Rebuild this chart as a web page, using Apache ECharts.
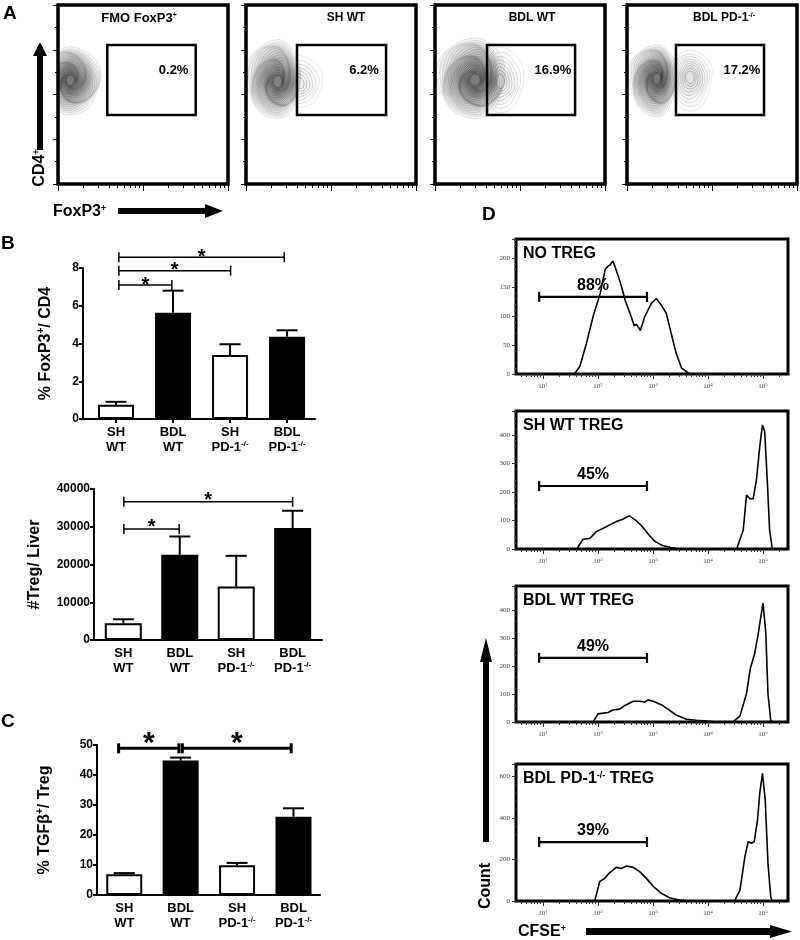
<!DOCTYPE html>
<html><head><meta charset="utf-8">
<script src="https://cdn.jsdelivr.net/npm/echarts@6/dist/echarts.min.js"></script>
<style>html,body{margin:0;padding:0;background:#fff}#c{width:800px;height:940px}</style>
</head><body><div id="c"></div>
<script>
// ---------------- DATA ----------------
const catLabels = ['SH\nWT', 'BDL\nWT', 'SH\nPD-1{s|-/-}', 'BDL\nPD-1{s|-/-}'];
const barFill = ['#fff', '#000', '#fff', '#000'];

const foxp3Mean = [0.75, 5.63, 3.39, 4.36];
const foxp3Err  = [0.16, 1.17, 0.57, 0.34];
const foxp3Sig  = [[0.05, 0.98, 7.1], [0.05, 2.01, 7.86], [0.05, 2.95, 8.57]];

const tregMean = [4430, 22560, 14150, 29650];
const tregErr  = [1060, 4860, 8150, 4590];
const tregSig  = [[0.01, 0.99, 29380], [0.01, 3.0, 36600]];

const tgfMean = [6.9, 44.8, 9.9, 26.1];
const tgfErr  = [0.4, 1.0, 0.8, 2.8];
const tgfSig  = [[-0.1, 0.97, 48.9], [1.03, 2.96, 48.9]];

// Panel A: flow contour plots
const flowTitles = ['FMO FoxP3{s|+}', 'SH WT', 'BDL WT', 'BDL PD-1{s|-/-}'];
const flowPct = ['0.2%', '6.2%', '16.9%', '17.2%'];
const flowGate = [[29, 81, 38.5, 77.7], [30, 82.4, 38.5, 77.7], [30.6, 82.4, 38.5, 77.7], [28.8, 80.6, 38.5, 77.7]];
// blob: cx, cy, rLeft, rRight, rUp, rDown, levels, density
const blobsFMO  = [[7, 58, 14, 18, 19, 19, 22, 1.2]];
const blobsSH   = [[19, 57, 19, 13, 24, 20, 22, 1.0], [31, 56, 6, 14, 16, 13, 7, 0.3]];
const blobsBDL  = [[24, 58, 23, 17, 24, 21, 24, 1.0], [38, 57, 8, 14, 20, 17, 8, 0.35]];
const blobsPD1  = [[18, 59, 17, 11, 19, 21, 22, 1.2], [37, 60, 12, 13, 15, 19, 9, 0.4]];

// Panel D: CFSE histograms (x = log10 CFSE, y = count)
const histTitles = ['NO TREG', 'SH WT TREG', 'BDL WT TREG', 'BDL PD-1{s|-/-} TREG'];
const histPct = ['88%', '45%', '49%', '39%'];
const histGateX = [0.93, 2.89];
const histGateY = [133, 221, 229, 284];
const histYMax = [232.8, 484, 486, 660];
const histYInterval = [50, 100, 100, 200];
const histNo = [[1.57,0],[1.67,13],[1.79,53],[1.91,99],[2.04,139],[2.13,180],[2.18,186],[2.22,188],[2.27,195],[2.31,185],[2.37,168],[2.43,150],[2.49,128],[2.58,105],[2.66,83],[2.70,86],[2.77,75],[2.85,99],[2.97,122],[3.06,130],[3.15,119],[3.24,105],[3.33,70],[3.42,36],[3.52,10],[3.67,0]];
const histSh = [[1.61,0],[1.73,34],[1.85,37],[1.97,61],[2.15,78],[2.33,96],[2.45,104],[2.52,112],[2.57,116],[2.63,108],[2.69,100],[2.78,84],[2.9,55],[3.02,29],[3.17,12],[3.32,5],[3.5,0],[4.52,0],[4.64,66],[4.70,189],[4.76,176],[4.82,176],[4.88,242],[4.94,359],[4.99,435],[5.03,413],[5.08,230],[5.12,65],[5.17,0]];
const histBdl = [[1.91,0],[2.0,29],[2.18,34],[2.27,43],[2.39,46],[2.48,58],[2.64,74],[2.76,74],[2.85,71],[2.91,79],[3.0,74],[3.15,62],[3.27,46],[3.42,25],[3.61,10],[3.79,6],[4.09,2],[4.45,0],[4.58,21],[4.70,102],[4.77,192],[4.85,246],[4.91,311],[4.96,376],[5.0,425],[5.05,320],[5.09,100],[5.14,6],[5.17,0]];
const histPd1 = [[1.94,0],[2.03,93],[2.12,109],[2.21,136],[2.33,162],[2.42,157],[2.52,169],[2.64,162],[2.76,141],[2.88,109],[3.0,72],[3.15,37],[3.30,16],[3.48,5],[3.67,0],[4.48,0],[4.58,51],[4.67,213],[4.73,286],[4.79,278],[4.84,286],[4.90,390],[4.94,519],[4.99,615],[5.04,487],[5.09,180],[5.14,19],[5.17,0]];
const histDecades = [1, 2, 3, 4, 5];

// ---------------- BUILD ----------------
const F = '"Liberation Sans", Arial, sans-serif';
const SERIF = '"Liberation Serif", "Times New Roman", serif';
const grids = [], xAxes = [], yAxes = [], series = [], graphics = [];
function addGrid(g) { grids.push(g); return grids.length - 1; }

function logTicks(lo, hi, offsetFn) {
  const major = [], minor = [];
  for (let n = -1; n <= 6; n++) {
    for (let k = 1; k <= 9; k++) {
      const u = offsetFn(n + Math.log10(k));
      if (u < lo - 1e-6 || u > hi + 1e-6) continue;
      (k === 1 ? major : minor).push(u);
    }
  }
  return { major, minor };
}

// contour renderer
function blobItem(params, api) {
  const cx = api.value(0), cy = api.value(1), rL = api.value(2), rR = api.value(3),
        rU = api.value(4), rD = api.value(5), n = api.value(6), dens = api.value(7);
  const children = [];
  for (let k = 0; k < n; k++) {
    const f = 1 - 0.88 * Math.pow(k / n, 0.85);
    const pts = [];
    for (let a = 0; a < 72; a++) {
      const t = a / 72 * 2 * Math.PI, c = Math.cos(t), s = Math.sin(t);
      const wob = 1 + 0.035 * Math.sin(3 * t + k * 0.6) + 0.02 * Math.sin(5 * t + k);
      pts.push(api.coord([cx + f * (c > 0 ? rR : rL) * c * wob, cy + f * (s > 0 ? rU : rD) * s * wob]));
    }
    const sa = Math.min(0.7, (0.22 + 0.48 * k / n) * (dens < 0.5 ? 0.8 : 1));
    children.push({ type: 'polygon', shape: { points: pts },
      style: { fill: 'rgba(0,0,0,' + (0.026 * dens) + ')', stroke: 'rgba(0,0,0,' + sa + ')', lineWidth: 0.5 } });
  }
  return { type: 'group', children };
}

// Panel A
const aLefts = [58, 246, 435, 627];
const aTitleX = [139, 346, 532, 724];
const blobSets = [blobsFMO, blobsSH, blobsBDL, blobsPD1];
const aT = logTicks(0, 100, v => v * 50);
aLefts.forEach((L, i) => {
  const gi = addGrid({ left: L, top: 5, width: 170, height: 179, show: true, borderColor: '#000', borderWidth: 3.5, backgroundColor: 'rgba(0,0,0,0)' });
  const xi = xAxes.length;
  xAxes.push({ gridIndex: gi, type: 'value', min: 0, max: 100, axisLine: { show: false }, axisLabel: { show: false }, splitLine: { show: false },
    axisTick: { show: true, customValues: aT.major, length: 7, lineStyle: { color: '#000', width: 1 } } });
  xAxes.push({ gridIndex: gi, type: 'value', position: 'top', offset: -179, min: 0, max: 100, axisLine: { show: false }, axisLabel: { show: false }, splitLine: { show: false },
    axisTick: { show: true, inside: true, customValues: aT.minor, length: 4, lineStyle: { color: '#000', width: 1 } } });
  const yi = yAxes.length;
  yAxes.push({ gridIndex: gi, type: 'value', min: 0, max: 100, interval: 25, axisLine: { show: false, onZero: false }, axisLabel: { show: false }, splitLine: { show: false },
    axisTick: { show: true, length: 5, lineStyle: { color: '#000' } }, minorTick: { show: true, splitNumber: 2, length: 3, lineStyle: { color: '#000' } } });
  series.push({ type: 'custom', xAxisIndex: xi, yAxisIndex: yi, clip: true, silent: true, z: 2, renderItem: blobItem, data: blobSets[i] });
  series.push({ type: 'custom', xAxisIndex: xi, yAxisIndex: yi, silent: true, z: 3, data: [flowGate[i]],
    renderItem: (p, api) => {
      const a = api.coord([api.value(0), api.value(3)]), b = api.coord([api.value(1), api.value(2)]);
      const lab = api.coord([api.value(1) - 13, api.value(3) - 14]);
      return { type: 'group', children: [
        { type: 'rect', shape: { x: a[0], y: a[1], width: b[0] - a[0], height: b[1] - a[1] }, style: { fill: 'none', stroke: '#000', lineWidth: 2.5 } },
        { type: 'text', x: lab[0], y: lab[1], style: { text: flowPct[i], font: 'bold 13px ' + F, fill: '#000', align: 'center', verticalAlign: 'middle', textAlign: 'center', textVerticalAlign: 'middle' } }
      ] };
    } });
  graphics.push({ type: 'text', x: aTitleX[i], y: 18, style: { text: flowTitles[i], font: 'bold ' + (i === 0 ? 13 : 12) + 'px ' + F, fill: '#000', align: 'center', verticalAlign: 'middle',
    rich: { s: { fontSize: 7, fontWeight: 'bold', fontFamily: F, verticalAlign: 'top', lineHeight: 7 } } } });
});

// Bar panels
const catRich = { s: { fontSize: 8, fontWeight: 'bold', fontFamily: F, verticalAlign: 'top', lineHeight: 8 } };
function errItem(params, api) {
  const x = api.value(0), m = api.value(1), e = api.value(2);
  const p0 = api.coord([x, m]), p1 = api.coord([x, m + e]);
  return { type: 'group', children: [
    { type: 'line', shape: { x1: p0[0], y1: p0[1], x2: p1[0], y2: p1[1] }, style: { stroke: '#000', lineWidth: 2 } },
    { type: 'line', shape: { x1: p1[0] - 10.5, y1: p1[1], x2: p1[0] + 10.5, y2: p1[1] }, style: { stroke: '#000', lineWidth: 2 } }
  ] };
}
function sigItem(cfg) {
  return function (params, api) {
    const p1 = api.coord([api.value(0), api.value(2)]), p2 = api.coord([api.value(1), api.value(2)]);
    const h = cfg.cap, lw = cfg.lw, mid = (p1[0] + p2[0]) / 2;
    return { type: 'group', children: [
      { type: 'line', shape: { x1: p1[0], y1: p1[1], x2: p2[0], y2: p2[1] }, style: { stroke: '#000', lineWidth: lw } },
      { type: 'line', shape: { x1: p1[0], y1: p1[1] - h, x2: p1[0], y2: p1[1] + h }, style: { stroke: '#000', lineWidth: lw } },
      { type: 'line', shape: { x1: p2[0], y1: p2[1] - h, x2: p2[0], y2: p2[1] + h }, style: { stroke: '#000', lineWidth: lw } },
      { type: 'text', x: mid, y: p1[1] + cfg.starDy, style: { text: '*', font: cfg.font, fill: '#000', align: 'center', verticalAlign: 'middle', textAlign: 'center', textVerticalAlign: 'middle' } }
    ] };
  };
}
function barPanel(c) {
  const gi = addGrid({ left: c.left, top: c.top, width: c.width, height: c.height });
  const xi = xAxes.length, yi = yAxes.length;
  xAxes.push({ gridIndex: gi, type: 'value', min: c.xmin, max: c.xmax, splitLine: { show: false },
    axisLine: { show: true, onZero: false, lineStyle: { color: '#000', width: 2 } },
    axisTick: { show: c.ticks, customValues: [0, 1, 2, 3], length: 4, lineStyle: { color: '#000', width: 2 } },
    axisLabel: { customValues: [0, 1, 2, 3], formatter: v => catLabels[Math.round(v)], margin: 6, fontFamily: F, fontWeight: 'bold', fontSize: 13, color: '#000', lineHeight: 15, rich: catRich } });
  yAxes.push({ gridIndex: gi, type: 'value', min: 0, max: c.ymax, interval: c.yint, splitLine: { show: false },
    axisLine: { show: true, onZero: false, lineStyle: { color: '#000', width: 2 } },
    axisTick: { show: true, length: 4, lineStyle: { color: '#000', width: 2 } },
    axisLabel: { fontFamily: F, fontWeight: 'bold', fontSize: 12, color: '#000', margin: 4, formatter: v => String(v) },
    name: c.name, nameLocation: 'middle', nameRotate: 90, nameGap: c.nameGap,
    nameTextStyle: { fontFamily: F, fontWeight: 'bold', fontSize: 16, color: '#000', lineHeight: 20,
      rich: { s: { fontSize: 10, fontWeight: 'bold', fontFamily: F, verticalAlign: 'top', lineHeight: 10 } } } });
  series.push({ type: 'bar', xAxisIndex: xi, yAxisIndex: yi, barWidth: c.barWidth - 2, z: 2,
    data: c.mean.map((v, i) => ({ value: [i, v], itemStyle: { color: barFill[i], borderColor: '#000', borderWidth: 2 } })) });
  series.push({ type: 'custom', xAxisIndex: xi, yAxisIndex: yi, z: 3, renderItem: errItem, data: c.mean.map((v, i) => [i, v, c.err[i]]) });
  series.push({ type: 'custom', xAxisIndex: xi, yAxisIndex: yi, z: 3, renderItem: sigItem(c.sig), data: c.sigData });
}
barPanel({ left: 83, top: 268, width: 232, height: 151, xmin: -0.579, xmax: 3.49, ymax: 8, yint: 2, ticks: true, barWidth: 38,
  name: '% FoxP3{s|+}/ CD4', nameGap: 27, mean: foxp3Mean, err: foxp3Err, sigData: foxp3Sig,
  sig: { cap: 5, lw: 1.5, starDy: 0, font: 'bold 20px ' + F } });
barPanel({ left: 94, top: 489, width: 228, height: 151, xmin: -0.519, xmax: 3.52, ymax: 40000, yint: 10000, ticks: false, barWidth: 39,
  name: '#Treg/ Liver', nameGap: 49, mean: tregMean, err: tregErr, sigData: tregSig,
  sig: { cap: 5, lw: 1.5, starDy: -1.6, font: 'bold 20px ' + F } });
barPanel({ left: 97, top: 745, width: 223, height: 150, xmin: -0.483, xmax: 3.47, ymax: 50, yint: 10, ticks: false, barWidth: 38,
  name: '% TGFβ{s|+}/ Treg', nameGap: 42, mean: tgfMean, err: tgfErr, sigData: tgfSig,
  sig: { cap: 5, lw: 3, starDy: -4.4, font: 'bold 30px ' + F } });

// Panel D
const dTops = [239, 411, 586, 764], dHeights = [135, 138, 136, 137];
const hists = [histNo, histSh, histBdl, histPd1];
const dXmin = 0.509, dXmax = 5.454;
const dT = logTicks(dXmin, dXmax, v => v);
dTops.forEach((T, i) => {
  const H = dHeights[i];
  const gi = addGrid({ left: 516, top: T, width: 272, height: H, show: true, borderColor: '#000', borderWidth: 3, backgroundColor: 'rgba(0,0,0,0)' });
  const xi = xAxes.length, yi = yAxes.length;
  xAxes.push({ gridIndex: gi, type: 'value', min: dXmin, max: dXmax, axisLine: { show: false, onZero: false }, splitLine: { show: false },
    axisTick: { show: true, customValues: histDecades, length: 5, lineStyle: { color: '#333', width: 1 } },
    axisLabel: { customValues: histDecades, formatter: v => '10{s|' + Math.round(v) + '}', margin: 8, fontFamily: SERIF, fontSize: 7, color: '#444', lineHeight: 9,
      rich: { s: { fontSize: 5, fontFamily: SERIF, color: '#444', verticalAlign: 'top', lineHeight: 5 } } } });
  xAxes.push({ gridIndex: gi, type: 'value', position: 'top', offset: -H, min: dXmin, max: dXmax, axisLine: { show: false, onZero: false }, axisLabel: { show: false }, splitLine: { show: false },
    axisTick: { show: true, inside: true, customValues: dT.minor, length: 3, lineStyle: { color: '#333', width: 1 } } });
  yAxes.push({ gridIndex: gi, type: 'value', min: 0, max: histYMax[i], interval: histYInterval[i], axisLine: { show: false, onZero: false }, splitLine: { show: false },
    axisTick: { show: true, length: 4, lineStyle: { color: '#333' } }, minorTick: { show: true, splitNumber: 5, length: 2, lineStyle: { color: '#555' } },
    axisLabel: { fontFamily: SERIF, fontSize: 7, color: '#444', margin: 6, showMaxLabel: false } });
  series.push({ type: 'line', xAxisIndex: xi, yAxisIndex: yi, data: hists[i], showSymbol: false, symbol: 'none', clip: true, z: 2,
    lineStyle: { color: '#000', width: 1.6 } });
  series.push({ type: 'custom', xAxisIndex: xi, yAxisIndex: yi, z: 3, data: [[histGateX[0], histGateX[1], histGateY[i]]],
    renderItem: (p, api) => {
      const a = api.coord([api.value(0), api.value(2)]), b = api.coord([api.value(1), api.value(2)]);
      return { type: 'group', children: [
        { type: 'line', shape: { x1: a[0], y1: a[1], x2: b[0], y2: b[1] }, style: { stroke: '#000', lineWidth: 2.2 } },
        { type: 'line', shape: { x1: a[0], y1: a[1] - 5, x2: a[0], y2: a[1] + 5 }, style: { stroke: '#000', lineWidth: 2.2 } },
        { type: 'line', shape: { x1: b[0], y1: b[1] - 5, x2: b[0], y2: b[1] + 5 }, style: { stroke: '#000', lineWidth: 2.2 } },
        { type: 'text', x: (a[0] + b[0]) / 2, y: a[1] - 11, style: { text: histPct[i], font: 'bold 16px ' + F, fill: '#000', align: 'center', verticalAlign: 'middle', textAlign: 'center', textVerticalAlign: 'middle' } }
      ] };
    } });
  graphics.push({ type: 'text', x: 523, y: T + 15, style: { text: histTitles[i], font: 'bold 16px ' + F, fill: '#000', align: 'left', verticalAlign: 'middle',
    rich: { s: { fontSize: 9, fontWeight: 'bold', fontFamily: F, verticalAlign: 'top', lineHeight: 9 } } } });
});

// letters, arrows, axis captions
const supRich = { s: { fontSize: 9, fontWeight: 'bold', fontFamily: F, verticalAlign: 'top', lineHeight: 9 } };
[['A', 3, 14], ['B', 1, 244], ['C', 1, 722], ['D', 482, 215]].forEach(l => {
  graphics.push({ type: 'text', x: l[1], y: l[2], style: { text: l[0], font: 'bold 19px ' + F, fill: '#000', align: 'left', verticalAlign: 'middle' } });
});
graphics.push({ type: 'polygon', shape: { points: [[37, 150], [37, 56], [33, 56], [40, 42], [47, 56], [43, 56], [43, 150]] }, style: { fill: '#000' } });
graphics.push({ type: 'text', x: 40, y: 168, rotation: Math.PI / 2, style: { text: 'CD4{s|+}', font: 'bold 16px ' + F, fill: '#000', align: 'center', verticalAlign: 'middle', rich: supRich } });
graphics.push({ type: 'text', x: 53, y: 212, style: { text: 'FoxP3{s|+}', font: 'bold 16px ' + F, fill: '#000', align: 'left', verticalAlign: 'middle', rich: supRich } });
graphics.push({ type: 'polygon', shape: { points: [[118, 208], [205, 208], [205, 204], [223, 211], [205, 218], [205, 214], [118, 214]] }, style: { fill: '#000' } });
graphics.push({ type: 'polygon', shape: { points: [[483, 842], [483, 662], [480, 662], [486, 638], [492, 662], [489, 662], [489, 842]] }, style: { fill: '#000' } });
graphics.push({ type: 'text', x: 486, y: 886, rotation: Math.PI / 2, style: { text: 'Count', font: 'bold 16px ' + F, fill: '#000', align: 'center', verticalAlign: 'middle' } });
graphics.push({ type: 'text', x: 518, y: 932, style: { text: 'CFSE{s|+}', font: 'bold 16px ' + F, fill: '#000', align: 'left', verticalAlign: 'middle', rich: supRich } });
graphics.push({ type: 'polygon', shape: { points: [[586, 928], [770, 928], [770, 925], [792, 931.5], [770, 938], [770, 935], [586, 935]] }, style: { fill: '#000' } });

const chart = echarts.init(document.getElementById('c'), null, { renderer: 'canvas' });
chart.setOption({
  animation: false,
  backgroundColor: '#fff',
  grid: grids, xAxis: xAxes, yAxis: yAxes, series: series,
  graphic: { elements: graphics }
});
</script></body></html>
